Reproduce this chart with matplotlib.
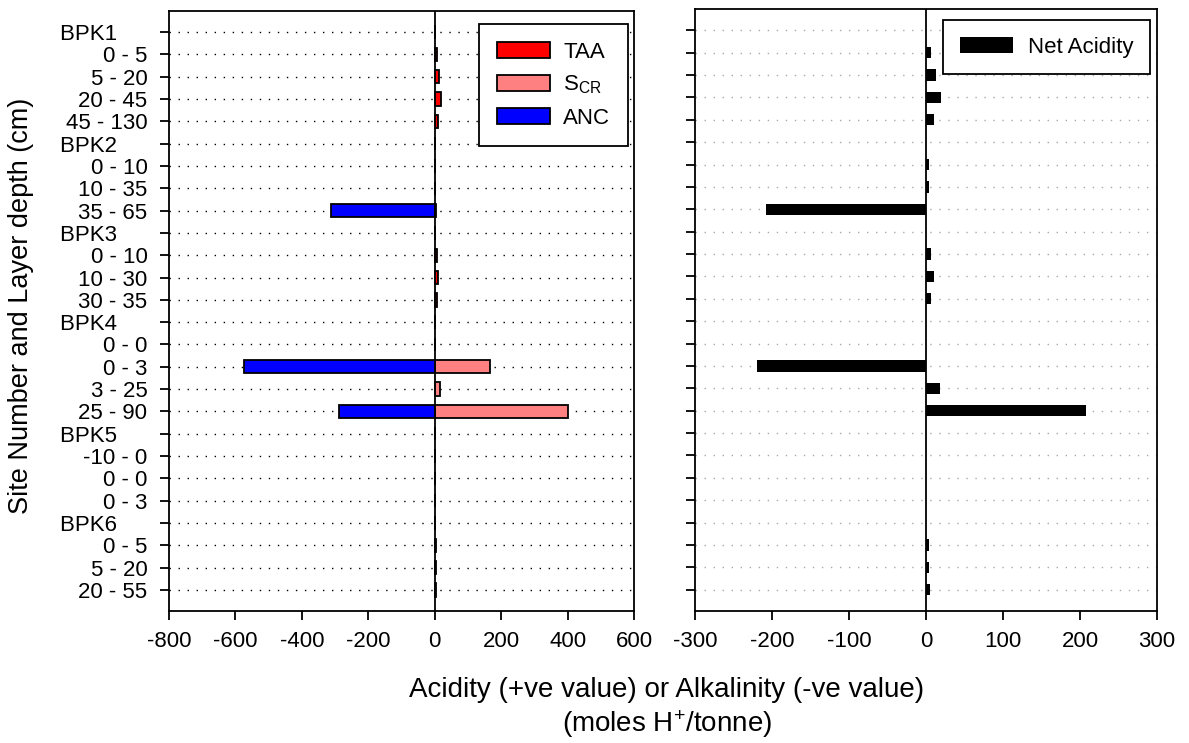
import matplotlib
matplotlib.use('Agg')
import matplotlib.pyplot as plt
import numpy as np

plt.rcParams['font.family'] = ['Liberation Sans', 'DejaVu Sans']
plt.rcParams['axes.unicode_minus'] = False
plt.rcParams['mathtext.default'] = 'regular'

# site headers carry trailing spaces so they sit left of the depth labels
labels = ['BPK1     ', '0 - 5', '5 - 20', '20 - 45', '45 - 130',
          'BPK2     ', '0 - 10', '10 - 35', '35 - 65',
          'BPK3     ', '0 - 10', '10 - 30', '30 - 35',
          'BPK4     ', '0 - 0', '0 - 3', '3 - 25', '25 - 90',
          'BPK5     ', '-10 - 0', '0 - 0', '0 - 3',
          'BPK6     ', '0 - 5', '5 - 20', '20 - 55']

taa = [0, 6, 12, 19, 10,
       0, 2, 2, 3,
       0, 7, 10, 6,
       0, 0, 0, 0, 0,
       0, 0, 0, 0,
       0, 3, 3, 4]
scr = [0, 0, 0, 0, 0,
       0, 0, 0, 0,
       0, 0, 0, 0,
       0, 0, 167, 17, 401,
       0, 0, 0, 0,
       0, 0, 0, 0]
anc = [0, 0, 0, 0, 0,
       0, 0, 0, -312,
       0, 0, 0, 0,
       0, 0, -575, 0, -289,
       0, 0, 0, 0,
       0, 0, 0, 0]
net_acidity = [0, 7, 13, 19, 11,
               0, 3.5, 4, -208,
               0, 7, 11, 6.5,
               0, 0, -219, 18, 208,
               0, 0, 0, 0,
               0, 4, 4, 5]

y = np.arange(len(labels))
W, H = 1189, 743

fig = plt.figure(figsize=(W/100, H/100), dpi=100)
ax1 = fig.add_axes([169/W, 1-611/H, 465/W, 600/H])
ax2 = fig.add_axes([695/W, 1-611/H, 462/W, 602/H])

for yy in y:
    ax1.axhline(yy, color='black', lw=1, ls=(0, (1, 5.5)), zorder=0)
    ax2.axhline(yy, color='#a8a8a8', lw=1, ls=(0, (1, 5.5)), zorder=0)

h = 0.6
ax1.barh(y, anc, height=h, color='#0000ff', edgecolor='black', lw=1.3, label='ANC', zorder=2)
ax1.barh(y, scr, height=h, color='#ff8080', edgecolor='black', lw=1.3, label='S$_{CR}$', zorder=2)
ax1.barh(y, taa, height=h, color='#ff0000', edgecolor='black', lw=1.3, label='TAA', zorder=3)
ax1.axvline(0, color='black', lw=1.3, zorder=4)

ax2.barh(y, net_acidity, height=0.5, color='black', label='Net Acidity', zorder=2)
ax2.axvline(0, color='black', lw=1.3, zorder=4)

for ax in (ax1, ax2):
    ax.set_ylim(len(labels) - 0.05, -0.95)
    ax.set_yticks(y)
    ax.tick_params(direction='out', length=6.5, width=1.3, labelsize=16, top=False, right=False)
    ax.tick_params(axis='y', pad=9)
    ax.tick_params(axis='x', pad=8)
    for s in ax.spines.values():
        s.set_linewidth(1.3)

ax1.set_yticklabels(labels)
ax2.set_yticklabels([])
ax1.set_xlim(-800, 600)
ax1.set_xticks(np.arange(-800, 601, 200))
ax2.set_xlim(-300, 300)
ax2.set_xticks(np.arange(-300, 301, 100))

hnd, lab = ax1.get_legend_handles_labels()
order = [2, 1, 0]
leg1 = ax1.legend([hnd[i] for i in order], [lab[i] for i in order], loc='upper right',
                  fontsize=16, fancybox=False, edgecolor='black', framealpha=1,
                  borderpad=0.8, handlelength=2.4, handleheight=0.75, handletextpad=0.6,
                  labelspacing=0.5, borderaxespad=0,
                  bbox_to_anchor=(628/W, 1-24/H), bbox_transform=fig.transFigure)
leg1.get_frame().set_linewidth(1.3)
leg2 = ax2.legend(loc='upper right', fontsize=16, fancybox=False, edgecolor='black', framealpha=1,
                  borderpad=0.75, handlelength=2.4, handleheight=0.7, handletextpad=0.65,
                  borderaxespad=0,
                  bbox_to_anchor=(1150/W, 1-20/H), bbox_transform=fig.transFigure)
leg2.get_frame().set_linewidth(1.3)

fig.text(21/W, 1-306/H, 'Site Number and Layer depth (cm)', rotation=90,
         ha='center', va='center', fontsize=19.5)
fig.text(667/W, 1-690/H, 'Acidity (+ve value) or Alkalinity (-ve value)',
         ha='center', va='center', fontsize=20)
fig.text(667/W, 1-724/H, '(moles H$^{+}$/tonne)',
         ha='center', va='center', fontsize=20)

fig.savefig('out.png', dpi=100)
